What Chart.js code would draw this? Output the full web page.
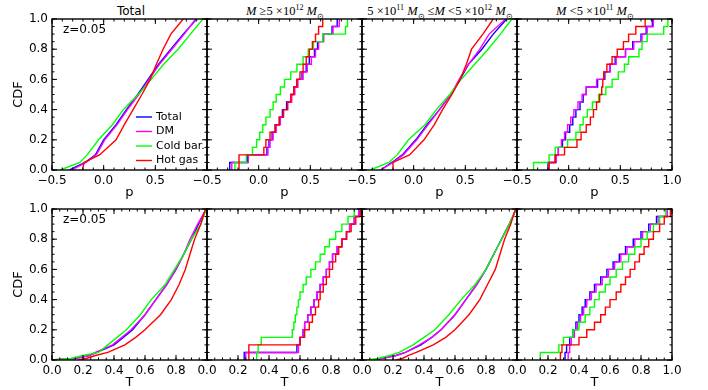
<!DOCTYPE html>
<html>
<head>
<meta charset="utf-8">
<script src="https://cdn.jsdelivr.net/npm/chart.js@4.4.0/dist/chart.umd.min.js"></script>
<style>
  body { margin: 0; background: #fff; }
  #wrap { position: relative; width: 708px; height: 390px; overflow: hidden; }
  #wrap canvas { position: absolute; left: 0; top: 0; }
  .ttl { position: absolute; top: 3px; transform: translateX(-50%); white-space: nowrap; line-height: 16px; color: #000; }
  .sans { font-family: 'DejaVu Sans', sans-serif; font-size: 12px; }
  .math { font-family: 'Liberation Serif', serif; font-size: 12.5px; }
  .math sup, .math sub { font-size: 8px; line-height: 0; }
</style>
</head>
<body>
<div id="wrap">
  <div class="ttl sans" style="left:131px">Total</div>
  <div class="ttl math" style="left:285px"><i>M</i> &#8805;5 &#215;10<sup>12</sup> <i>M</i><sub>&#8857;</sub></div>
  <div class="ttl math" style="left:440px">5 &#215;10<sup>11</sup> <i>M</i><sub>&#8857;</sub> &#8804;<i>M</i> &lt;5 &#215;10<sup>12</sup> <i>M</i><sub>&#8857;</sub></div>
  <div class="ttl math" style="left:595px"><i>M</i> &lt;5 &#215;10<sup>11</sup> <i>M</i><sub>&#8857;</sub></div>
  <canvas id="c0" width="708" height="390"></canvas>
  <canvas id="c1" width="708" height="390"></canvas>
  <canvas id="c2" width="708" height="390"></canvas>
  <canvas id="c3" width="708" height="390"></canvas>
  <canvas id="c4" width="708" height="390"></canvas>
  <canvas id="c5" width="708" height="390"></canvas>
  <canvas id="c6" width="708" height="390"></canvas>
  <canvas id="c7" width="708" height="390"></canvas>
</div>
<script>
const seriesNames = ['Total', 'DM', 'Cold bar.', 'Hot gas'];
const seriesColors = ['#0000ff', '#ff00ff', '#00ff00', '#ff0000'];

const pTicks = [-0.5, 0.0, 0.5, 1.0];
const tTicks = [0.0, 0.2, 0.4, 0.6, 0.8, 1.0];
const cdfTicks = [0.0, 0.2, 0.4, 0.6, 0.8, 1.0];

// CDF levels, and the p or T value where each curve reaches that level
// --- p, all haloes
const pAllLevels = [0, 0.05, 0.1, 0.2, 0.3, 0.4, 0.5, 0.6, 0.7, 0.8, 0.9, 1.0];
const pAllTotal = [-0.33, -0.18, -0.08, 0.0, 0.12, 0.22, 0.33, 0.43, 0.53, 0.65, 0.77, 0.90];
const pAllDM    = [-0.31, -0.17, -0.07, 0.01, 0.13, 0.23, 0.34, 0.44, 0.54, 0.66, 0.78, 0.89];
const pAllCold  = [-0.42, -0.23, -0.16, -0.05, 0.085, 0.19, 0.335, 0.46, 0.58, 0.72, 0.84, 0.96];
const pAllHot   = [-0.205, -0.19, -0.04, 0.12, 0.20, 0.285, 0.37, 0.45, 0.51, 0.575, 0.65, 0.77];

// --- p, M >= 5e12
const pHighLevels = [0, 0.05, 0.1, 0.15, 0.2, 0.25, 0.3, 0.35, 0.4, 0.45, 0.5, 0.55, 0.6, 0.65, 0.7, 0.75, 0.8, 0.85, 0.9, 0.95, 1.0];
const pHighTotal = [-0.28, -0.28, -0.11, 0.08, 0.10, 0.13, 0.16, 0.20, 0.23, 0.27, 0.31, 0.34, 0.37, 0.42, 0.46, 0.49, 0.54, 0.57, 0.62, 0.71, 0.76];
const pHighDM    = [-0.26, -0.26, -0.10, 0.09, 0.11, 0.14, 0.17, 0.21, 0.24, 0.28, 0.32, 0.35, 0.38, 0.43, 0.47, 0.51, 0.55, 0.58, 0.63, 0.72, 0.78];
const pHighCold  = [-0.23, -0.23, -0.12, -0.06, -0.02, 0.01, 0.04, 0.07, 0.11, 0.14, 0.17, 0.21, 0.25, 0.31, 0.37, 0.43, 0.48, 0.53, 0.62, 0.84, 0.86];
const pHighHot   = [-0.19, -0.19, -0.19, 0.05, 0.07, 0.11, 0.16, 0.20, 0.24, 0.28, 0.31, 0.34, 0.37, 0.40, 0.43, 0.46, 0.49, 0.52, 0.55, 0.58, 0.62];

// --- p, 5e11 <= M < 5e12
const pMidLevels = [0, 0.05, 0.1, 0.2, 0.3, 0.4, 0.5, 0.6, 0.7, 0.8, 0.9, 1.0];
const pMidTotal = [-0.32, -0.21, -0.11, 0.02, 0.13, 0.25, 0.36, 0.45, 0.53, 0.66, 0.77, 0.90];
const pMidDM    = [-0.32, -0.20, -0.10, 0.03, 0.14, 0.25, 0.36, 0.44, 0.53, 0.64, 0.73, 0.89];
const pMidCold  = [-0.42, -0.24, -0.16, -0.05, 0.11, 0.22, 0.35, 0.46, 0.59, 0.72, 0.84, 0.95];
const pMidHot   = [-0.20, -0.20, -0.04, 0.10, 0.20, 0.28, 0.37, 0.45, 0.51, 0.56, 0.67, 0.77];

// --- p, M < 5e11
const pLowLevels = [0, 0.05, 0.1, 0.15, 0.2, 0.25, 0.3, 0.35, 0.4, 0.45, 0.5, 0.55, 0.6, 0.65, 0.7, 0.75, 0.8, 0.85, 0.9, 0.95, 1.0];
const pLowTotal = [-0.20, -0.20, -0.13, -0.10, -0.06, -0.03, 0.01, 0.04, 0.07, 0.11, 0.14, 0.17, 0.28, 0.35, 0.40, 0.45, 0.55, 0.62, 0.70, 0.75, 0.81];
const pLowDM    = [-0.19, -0.19, -0.12, -0.10, -0.07, -0.04, -0.01, 0.02, 0.05, 0.09, 0.13, 0.17, 0.27, 0.34, 0.40, 0.46, 0.55, 0.63, 0.71, 0.76, 0.82];
const pLowCold  = [-0.34, -0.34, -0.19, -0.13, -0.01, 0.07, 0.11, 0.14, 0.18, 0.23, 0.29, 0.36, 0.42, 0.48, 0.54, 0.58, 0.68, 0.71, 0.76, 0.92, 0.96];
const pLowHot   = [-0.20, -0.19, -0.13, -0.04, 0.08, 0.12, 0.17, 0.21, 0.24, 0.27, 0.30, 0.32, 0.33, 0.34, 0.37, 0.42, 0.47, 0.53, 0.58, 0.65, 0.74];

// --- T, all haloes
const tAllLevels = [0, 0.01, 0.03, 0.05, 0.1, 0.15, 0.2, 0.3, 0.4, 0.5, 0.6, 0.7, 0.8, 0.9, 1.0];
const tAllTotal = [0.0, 0.15, 0.24, 0.29, 0.40, 0.46, 0.52, 0.60, 0.67, 0.74, 0.80, 0.85, 0.90, 0.945, 0.995];
const tAllDM    = [0.0, 0.15, 0.24, 0.28, 0.39, 0.45, 0.51, 0.60, 0.67, 0.74, 0.80, 0.85, 0.89, 0.94, 0.995];
const tAllCold  = [0.0, 0.12, 0.20, 0.30, 0.36, 0.42, 0.48, 0.57, 0.64, 0.73, 0.79, 0.85, 0.90, 0.96, 0.995];
const tAllHot   = [0.17, 0.22, 0.28, 0.36, 0.47, 0.54, 0.60, 0.70, 0.77, 0.82, 0.86, 0.89, 0.92, 0.96, 0.99];

// --- T, M >= 5e12
const tHighLevels = [0, 0.05, 0.1, 0.15, 0.2, 0.25, 0.3, 0.35, 0.4, 0.45, 0.5, 0.55, 0.6, 0.65, 0.7, 0.75, 0.8, 0.85, 0.9, 0.95, 1.0];
const tHighTotal = [0.24, 0.24, 0.58, 0.60, 0.62, 0.63, 0.65, 0.67, 0.69, 0.71, 0.73, 0.75, 0.77, 0.79, 0.81, 0.84, 0.87, 0.90, 0.92, 0.95, 0.98];
const tHighDM    = [0.25, 0.25, 0.59, 0.60, 0.62, 0.63, 0.65, 0.67, 0.69, 0.71, 0.73, 0.75, 0.77, 0.79, 0.81, 0.84, 0.87, 0.90, 0.92, 0.95, 0.98];
const tHighCold  = [0.32, 0.32, 0.33, 0.35, 0.55, 0.56, 0.57, 0.58, 0.59, 0.60, 0.62, 0.64, 0.67, 0.70, 0.73, 0.76, 0.79, 0.83, 0.87, 0.91, 0.95];
const tHighHot   = [0.27, 0.27, 0.27, 0.60, 0.63, 0.66, 0.68, 0.70, 0.72, 0.73, 0.75, 0.77, 0.79, 0.81, 0.83, 0.85, 0.87, 0.90, 0.93, 0.96, 0.99];

// --- T, 5e11 <= M < 5e12
const tMidLevels = [0, 0.01, 0.03, 0.05, 0.1, 0.15, 0.2, 0.3, 0.4, 0.5, 0.6, 0.7, 0.8, 0.9, 1.0];
const tMidTotal = [0.07, 0.12, 0.22, 0.28, 0.38, 0.45, 0.51, 0.60, 0.67, 0.74, 0.80, 0.85, 0.90, 0.95, 0.995];
const tMidDM    = [0.08, 0.13, 0.22, 0.28, 0.37, 0.45, 0.51, 0.60, 0.67, 0.74, 0.80, 0.85, 0.90, 0.95, 0.995];
const tMidCold  = [0.03, 0.10, 0.18, 0.24, 0.33, 0.40, 0.47, 0.56, 0.64, 0.73, 0.80, 0.85, 0.90, 0.95, 0.995];
const tMidHot   = [0.22, 0.26, 0.30, 0.35, 0.46, 0.54, 0.60, 0.69, 0.76, 0.81, 0.86, 0.89, 0.92, 0.96, 0.99];

// --- T, M < 5e11
const tLowLevels = [0, 0.05, 0.1, 0.15, 0.2, 0.25, 0.3, 0.35, 0.4, 0.45, 0.5, 0.55, 0.6, 0.65, 0.7, 0.75, 0.8, 0.85, 0.9, 0.95, 1.0];
const tLowTotal = [0.31, 0.31, 0.32, 0.34, 0.36, 0.38, 0.40, 0.42, 0.44, 0.47, 0.50, 0.54, 0.58, 0.62, 0.66, 0.70, 0.75, 0.80, 0.85, 0.90, 0.97];
const tLowDM    = [0.33, 0.33, 0.34, 0.35, 0.37, 0.39, 0.41, 0.43, 0.45, 0.48, 0.51, 0.55, 0.59, 0.63, 0.67, 0.71, 0.76, 0.81, 0.86, 0.91, 0.97];
const tLowCold  = [0.15, 0.15, 0.27, 0.30, 0.36, 0.40, 0.44, 0.47, 0.50, 0.53, 0.57, 0.60, 0.64, 0.68, 0.72, 0.76, 0.80, 0.84, 0.88, 0.92, 0.96];
const tLowHot   = [0.28, 0.28, 0.29, 0.40, 0.45, 0.50, 0.54, 0.57, 0.60, 0.64, 0.67, 0.70, 0.73, 0.76, 0.79, 0.82, 0.85, 0.88, 0.92, 0.95, 0.99];

// panel edges in pixels
const colEdges = [52, 207, 362, 517, 672];
const rowTop = [19, 209];
const rowBottom = [170, 360];

const panels = [
  { row: 0, col: 0, axis: 'p', levels: pAllLevels,  curves: [pAllTotal, pAllDM, pAllCold, pAllHot], stepped: false, note: true, legend: true },
  { row: 0, col: 1, axis: 'p', levels: pHighLevels, curves: [pHighTotal, pHighDM, pHighCold, pHighHot], stepped: true },
  { row: 0, col: 2, axis: 'p', levels: pMidLevels,  curves: [pMidTotal, pMidDM, pMidCold, pMidHot], stepped: false },
  { row: 0, col: 3, axis: 'p', levels: pLowLevels,  curves: [pLowTotal, pLowDM, pLowCold, pLowHot], stepped: true },
  { row: 1, col: 0, axis: 'T', levels: tAllLevels,  curves: [tAllTotal, tAllDM, tAllCold, tAllHot], stepped: false, note: true },
  { row: 1, col: 1, axis: 'T', levels: tHighLevels, curves: [tHighTotal, tHighDM, tHighCold, tHighHot], stepped: true },
  { row: 1, col: 2, axis: 'T', levels: tMidLevels,  curves: [tMidTotal, tMidDM, tMidCold, tMidHot], stepped: false },
  { row: 1, col: 3, axis: 'T', levels: tLowLevels,  curves: [tLowTotal, tLowDM, tLowCold, tLowHot], stepped: true }
];

const font = { family: 'DejaVu Sans', size: 12 };
const fmt = v => v.toFixed(1).replace('-', '\u2212');

const tickSide = (ctx, scale, a, minorStep, horizontal) => {
  const min = scale.min, max = scale.max;
  const draw = (v, len) => {
    const px = scale.getPixelForValue(v);
    ctx.beginPath();
    if (horizontal) {
      ctx.moveTo(px, a.bottom); ctx.lineTo(px, a.bottom - len);
      ctx.moveTo(px, a.top); ctx.lineTo(px, a.top + len);
    } else {
      ctx.moveTo(a.left, px); ctx.lineTo(a.left + len, px);
      ctx.moveTo(a.right, px); ctx.lineTo(a.right - len, px);
    }
    ctx.stroke();
  };
  const n = Math.round((max - min) / minorStep);
  for (let i = 0; i <= n; i++) draw(min + i * minorStep, 2.5);
  scale.ticks.forEach(t => draw(t.value, 5));
};

panels.forEach((pn, i) => {
  const isP = pn.axis === 'p';
  const last = pn.col === 3;

  const framePlugin = {
    id: 'frame' + i,
    afterDraw(chart) {
      const { ctx, chartArea: a, scales } = chart;
      ctx.save();
      ctx.strokeStyle = '#000';
      ctx.lineWidth = 1;
      tickSide(ctx, scales.x, a, isP ? 0.1 : 0.05, true);
      tickSide(ctx, scales.y, a, 0.05, false);
      ctx.lineWidth = 1.4;
      ctx.strokeRect(a.left, a.top, a.right - a.left, a.bottom - a.top);

      ctx.fillStyle = '#000';
      ctx.textBaseline = 'middle';
      if (pn.note) {
        ctx.font = '12px "DejaVu Sans"';
        ctx.fillText('z=0.05', a.left + 11, a.top + 11);
      }
      if (pn.legend) {
        ctx.font = '11px "DejaVu Sans"';
        chart.data.datasets.forEach((ds, k) => {
          const y = a.top + 98 + k * 14.5;
          ctx.strokeStyle = ds.borderColor;
          ctx.lineWidth = 1.4;
          ctx.beginPath();
          ctx.moveTo(a.left + 84, y);
          ctx.lineTo(a.left + 100, y);
          ctx.stroke();
          ctx.fillText(ds.label, a.left + 104, y);
        });
      }
      ctx.restore();
    }
  };

  new Chart(document.getElementById('c' + i), {
    type: 'line',
    data: {
      datasets: pn.curves.map((xs, k) => ({
        label: seriesNames[k],
        data: xs.map((x, j) => ({ x: x, y: pn.levels[j] })),
        borderColor: seriesColors[k],
        backgroundColor: seriesColors[k],
        borderWidth: 1.4,
        pointRadius: 0,
        tension: 0,
        stepped: pn.stepped ? 'before' : false,
        order: 4 - k
      }))
    },
    options: {
      responsive: false,
      animation: false,
      events: [],
      layout: {
        padding: {
          left: colEdges[pn.col] - 45,
          right: 708 - colEdges[pn.col + 1],
          top: rowTop[pn.row],
          bottom: 390 - rowBottom[pn.row] - 30
        }
      },
      plugins: { legend: { display: false }, tooltip: { enabled: false } },
      scales: {
        x: {
          type: 'linear',
          min: isP ? -0.5 : 0,
          max: 1,
          afterBuildTicks: s => { s.ticks = (isP ? pTicks : tTicks).map(v => ({ value: v })); },
          afterFit: s => { s.height = 30; },
          grid: { display: false, drawTicks: false },
          border: { display: false },
          ticks: {
            font: font, color: '#000', padding: 4, maxRotation: 0, autoSkip: false,
            callback: v => (v === 1 && !last) ? '' : fmt(v)
          },
          title: { display: true, text: isP ? 'p' : 'T', font: { family: 'DejaVu Sans', size: 13 }, color: '#000', padding: { top: 0, bottom: 0 } }
        },
        y: {
          type: 'linear',
          min: 0,
          max: 1,
          afterBuildTicks: s => { s.ticks = cdfTicks.map(v => ({ value: v })); },
          afterFit: s => { s.width = 45; },
          grid: { display: false, drawTicks: false },
          border: { display: false },
          ticks: { display: pn.col === 0, font: font, color: '#000', padding: 4, callback: v => fmt(v) },
          title: { display: pn.col === 0, text: 'CDF', font: { family: 'DejaVu Sans', size: 13 }, color: '#000', padding: { top: 4, bottom: 0 } }
        }
      }
    },
    plugins: [framePlugin]
  });
});
</script>
</body>
</html>
